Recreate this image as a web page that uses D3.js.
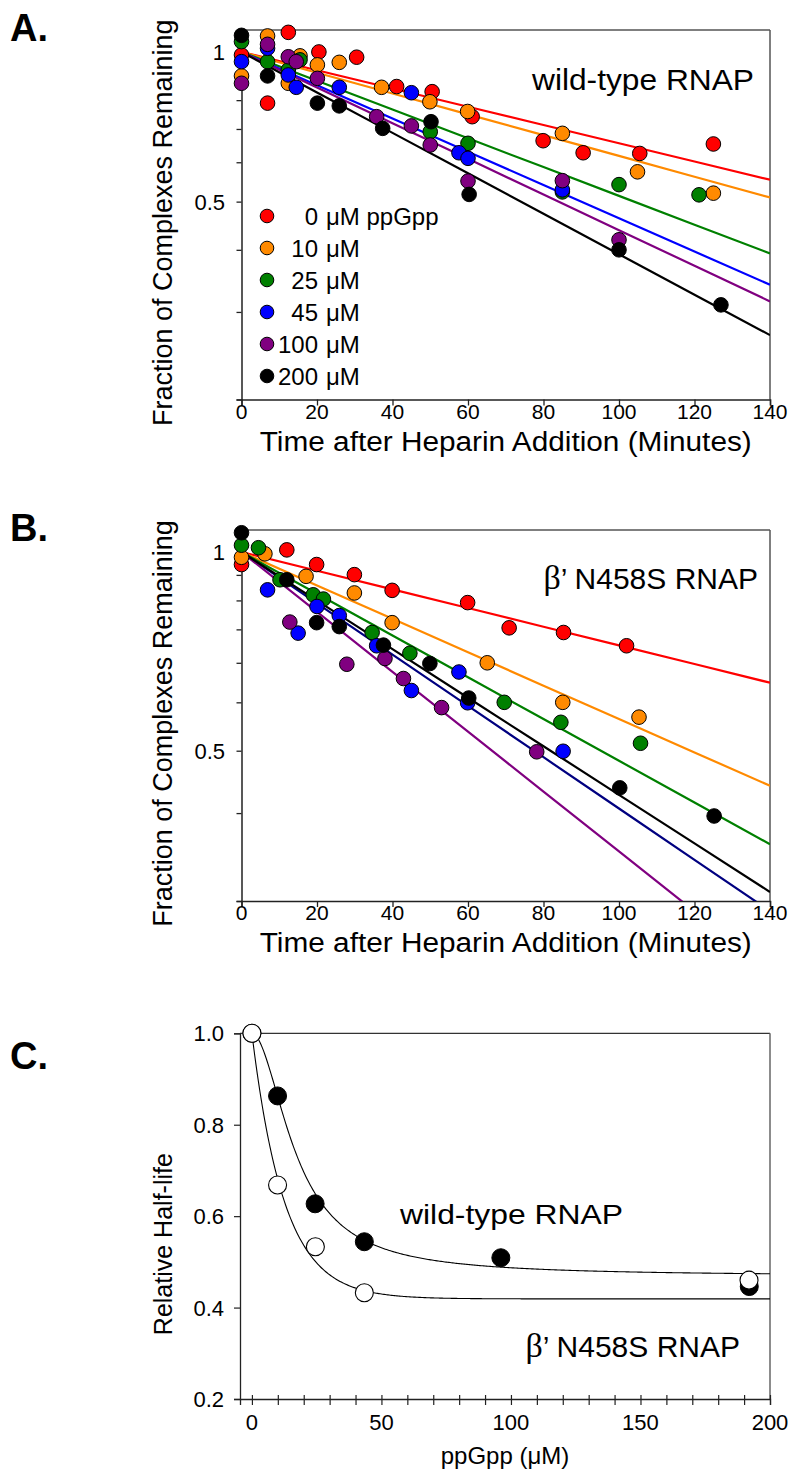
<!DOCTYPE html>
<html><head><meta charset="utf-8">
<script src="https://cdn.jsdelivr.net/npm/d3@7"></script>
<style>body{margin:0;background:#fff} svg{display:block} text{font-family:Arial,"Liberation Sans",sans-serif;fill:#000}</style>
</head><body>
<svg id="c" width="800" height="1483"></svg>
<script>
// ---------- data ----------
const timeTicks = [0,20,40,60,80,100,120,140];
const fracTicks = [0.2,0.3,0.4,0.5,0.6,0.7,0.8,0.9,1];
// tick labels as printed in each panel: [tick value, label text]
const fracLabelsA = [[1,"1"],[0.5,"0.5"]];
const fracLabelsB = [[1,"1"],[0.4,"0.5"]];
const seriesConc = ["0","10","25","45","100","200"];
const seriesColors = ["#ff0000","#ff8a00","#008000","#0000ff","#800080","#000000"];
const lineColorsA = ["#ff0000","#ff8a00","#008000","#0000ff","#800080","#000000"];
const lineColorsB = ["#ff0000","#ff8a00","#008000","#000080","#800080","#000000"];
// fitted half-lives (min) for single-exponential decay lines
const halfLifeA = [164,144,104,90,84,74];
const halfLifeB = [161,90,72,58.6,50.2,61.9];

// Panel A: wild-type RNAP  [time, fraction]
const a0   = [[0,0.986],[6.9,0.789],[12.4,1.095],[20.5,1.0],[30.5,0.976],[41.1,0.852],[50.5,0.832],[61.1,0.741],[79.9,0.663],[90.5,0.627],[105.5,0.625],[125,0.653]];
const a10  = [[0,0.895],[6.9,1.077],[12.4,0.865],[15.5,0.982],[20.1,0.942],[25.9,0.953],[37.1,0.849],[49.9,0.794],[59.9,0.759],[85,0.686],[104.9,0.574],[125,0.520]];
const a25  = [[0,1.049],[6.9,0.956],[12.4,0.92],[15.5,0.964],[50,0.691],[60,0.655],[85,0.523],[100,0.541],[121.2,0.516]];
const a45  = [[0,0.956],[6.9,1.017],[12.4,0.899],[14.5,0.849],[25.9,0.849],[45,0.828],[57.6,0.627],[60,0.611],[85,0.528]];
const a100 = [[0,0.865],[6.9,1.036],[12.4,0.978],[14.5,0.956],[20.1,0.885],[35.8,0.741],[45,0.71],[50,0.65],[60,0.55],[85,0.551],[100,0.419]];
const a200 = [[0,1.08],[6.9,0.895],[20.1,0.789],[25.9,0.779],[37.4,0.702],[50.2,0.724],[60.3,0.517],[100,0.400],[127,0.310]];

// Panel B: beta' N458S RNAP
const b0   = [[0,0.944],[12,1.01],[19.9,0.944],[29.9,0.901],[39.9,0.838],[59.9,0.792],[70.9,0.705],[85.3,0.690],[102,0.649]];
const b10  = [[0,0.976],[6.2,0.992],[17.1,0.894],[29.9,0.828],[39.9,0.722],[65.1,0.600],[85.1,0.5],[105.3,0.467]];
const b25  = [[0,1.032],[4.5,1.02],[10.2,0.88],[19,0.821],[21.7,0.805],[34.6,0.690],[44.6,0.627],[69.6,0.5],[84.6,0.456],[105.7,0.414]];
const b45  = [[6.9,0.840],[15,0.688],[20,0.778],[25.9,0.746],[35.8,0.649],[45,0.528],[57.6,0.575],[59.9,0.499],[85.2,0.399]];
const b100 = [[12.8,0.724],[27.9,0.596],[38,0.612],[42.9,0.558],[53,0.488],[78.2,0.398]];
const b200 = [[0,1.093],[12,0.88],[19.9,0.722],[25.9,0.709],[37.6,0.651],[49.9,0.598],[60.2,0.51],[100.2,0.337],[125.2,0.296]];

// Panel C
const ppGppTicks = [0,50,100,150,200];
const ppGppMinor = [10,20,30,40,60,70,80,90,110,120,130,140,160,170,180,190];
const relTicks = [0.2,0.4,0.6,0.8,1.0];
const concWT  = [0,9.9,24.4,43.4,96.1,192];
const relWT   = [1.0,0.863,0.627,0.544,0.509,0.446];
const concMut = [0,9.9,24.5,43.4,191.9];
const relMut  = [1.0,0.668,0.533,0.4325,0.460];
// fitted curves
const fitWT  = {plateau:0.469, K:17.2, n:1.9};   // Hill-type decay
const fitMut = {plateau:0.419, rate:0.08};       // exponential decay

// ---------- drawing ----------
const svg = d3.select("#c");
const L = 241.5, R = 770;

function txt(g, x, y, s, size, anchor, extra) {
  const t = g.append("text").attr("x", x).attr("y", y).attr("font-size", size)
    .attr("text-anchor", anchor || "start").text(s);
  if (extra) extra(t);
  return t;
}

function logPanel(top, bottom, sets, halfLives, lineColors, labels, letter, id) {
  const g = svg.append("g");
  const x = d3.scaleLinear().domain([0,140]).range([L,R]);
  const y = d3.scaleLog().domain([0.2,1.107]).range([bottom,top]);
  g.append("clipPath").attr("id", id).append("rect")
    .attr("x", L).attr("y", top).attr("width", R-L).attr("height", bottom-top);
  g.append("line").attr("x1",L).attr("x2",R).attr("y1",top).attr("y2",top).attr("stroke","#555").attr("stroke-width",1.5);
  g.append("line").attr("x1",R).attr("x2",R).attr("y1",top).attr("y2",bottom).attr("stroke","#555").attr("stroke-width",1.5);
  const xa = g.append("g").attr("transform",`translate(0,${bottom})`)
    .call(d3.axisBottom(x).tickValues(timeTicks).tickSize(6).tickFormat(""));
  const ya = g.append("g").attr("transform",`translate(${L},0)`)
    .call(d3.axisLeft(y).tickValues(fracTicks).tickSize(5).tickFormat(""));
  [xa,ya].forEach(a => { a.select(".domain").attr("stroke","#222").attr("stroke-width",1.5);
    a.selectAll(".tick line").attr("stroke","#222").attr("stroke-width",1.3); });
  timeTicks.forEach(v => txt(g, x(v), bottom+19, v, 21, "middle"));
  labels.forEach(d => txt(g, 225, y(d[0])+8, d[1], 22, "end"));
  const lg = g.append("g").attr("clip-path", `url(#${id})`);
  const line = d3.line().x(d => x(d[0])).y(d => y(d[1]));
  halfLives.forEach((h,i) => {
    const pts = timeTicks.map(t => [t, Math.pow(0.5, t/h)]);
    lg.append("path").attr("d", line(pts)).attr("fill","none")
      .attr("stroke", lineColors[i]).attr("stroke-width", 2.2);
  });
  sets.forEach((s,i) => {
    g.append("g").selectAll("circle").data(s).join("circle")
      .attr("cx", d => x(d[0])).attr("cy", d => y(d[1])).attr("r", 7.3)
      .attr("fill", seriesColors[i]).attr("stroke","#000").attr("stroke-width",1);
  });
  txt(g, 0, 0, "Fraction of Complexes Remaining", 27, "middle",
      t => t.attr("transform", `translate(172,${(top+bottom)/2+8}) rotate(-90)`));
  txt(g, (L+R)/2, bottom+51, "Time after Heparin Addition (Minutes)", 27, "middle",
      t => t.attr("textLength", 492).attr("lengthAdjust","spacingAndGlyphs"));
  txt(g, 10, top+11, letter, 38, "start", t => t.attr("font-weight","bold"));
  return {g, x, y};
}

const A = logPanel(30, 399.5, [a0,a10,a25,a45,a100,a200], halfLifeA, lineColorsA, fracLabelsA, "A.", "clipA");
txt(A.g, 754, 90, "wild-type RNAP", 30, "end", t => t.attr("textLength",222).attr("lengthAdjust","spacingAndGlyphs"));
const legY0 = 216, legStep = 32;
seriesConc.forEach((c,i) => {
  const yy = legY0 + i*legStep;
  A.g.append("circle").attr("cx", 267).attr("cy", yy).attr("r", 6.8)
    .attr("fill", seriesColors[i]).attr("stroke","#000").attr("stroke-width",1);
  txt(A.g, 318, yy+9, c, 24, "end");
  txt(A.g, 326, yy+9, i === 0 ? "\u03bcM ppGpp" : "\u03bcM", 24, "start");
});

const B = logPanel(530, 901, [b0,b10,b25,b45,b100,b200], halfLifeB, lineColorsB, fracLabelsB, "B.", "clipB");
{
  const t = B.g.append("text").attr("x", 758).attr("y", 589).attr("font-size", 30).attr("text-anchor","end");
  t.append("tspan").attr("font-family","'Liberation Serif',serif").attr("font-size",34).text("\u03b2");
  t.append("tspan").text("\u2019 N458S RNAP");
}

// Panel C
{
  const g = svg.append("g");
  const top = 1033.3, bottom = 1399, Lc = 240;
  const x = d3.scaleLinear().domain([-4.6,200]).range([Lc,R]);
  const y = d3.scaleLinear().domain([0.2,1.0]).range([bottom,top]);
  g.append("line").attr("x1",Lc).attr("x2",R).attr("y1",top).attr("y2",top).attr("stroke","#333").attr("stroke-width",1.3);
  g.append("line").attr("x1",R).attr("x2",R).attr("y1",top).attr("y2",bottom).attr("stroke","#666").attr("stroke-width",1.5);
  const xa = g.append("g").attr("transform",`translate(0,${bottom})`)
    .call(d3.axisBottom(x).tickValues(ppGppTicks.concat(ppGppMinor)).tickSize(6).tickFormat(""));
  xa.selectAll(".tick line").attr("y1",-4);
  const ya = g.append("g").attr("transform",`translate(${Lc},0)`)
    .call(d3.axisLeft(y).tickValues(relTicks).tickSize(6).tickFormat(""));
  [xa,ya].forEach(a => { a.select(".domain").attr("stroke","#222").attr("stroke-width",1.3);
    a.selectAll(".tick line").attr("stroke","#222").attr("stroke-width",1.2); });
  ppGppTicks.forEach(v => txt(g, x(v), bottom+31, v, 22, "middle"));
  relTicks.forEach(v => txt(g, 224, y(v)+8, v.toFixed(1), 22, "end"));
  g.append("clipPath").attr("id","clipC").append("rect")
    .attr("x",Lc).attr("y",top).attr("width",R-Lc).attr("height",bottom-top);
  const cg = g.append("g").attr("clip-path","url(#clipC)");
  const line = d3.line().x(d => x(d[0])).y(d => y(d[1]));
  const xs = d3.range(0, 200.5, 0.5);
  const wtCurve  = xs.map(c => [c, fitWT.plateau + (1-fitWT.plateau)/(1+Math.pow(c/fitWT.K, fitWT.n))]);
  const mutCurve = xs.map(c => [c, fitMut.plateau + (1-fitMut.plateau)*Math.exp(-fitMut.rate*c)]);
  [wtCurve, mutCurve].forEach(pts => cg.append("path").attr("d", line(pts)).attr("fill","none")
    .attr("stroke","#000").attr("stroke-width",1.1));
  g.append("g").selectAll("circle").data(d3.zip(concWT, relWT)).join("circle")
    .attr("cx", d => x(d[0])).attr("cy", d => y(d[1])).attr("r", 9)
    .attr("fill","#000").attr("stroke","#000");
  g.append("g").selectAll("circle").data(d3.zip(concMut, relMut)).join("circle")
    .attr("cx", d => x(d[0])).attr("cy", d => y(d[1])).attr("r", 9)
    .attr("fill","#fff").attr("stroke","#000").attr("stroke-width",1.1);
  txt(g, 0, 0, "Relative Half-life", 25, "middle",
      t => t.attr("transform", `translate(172,${(top+bottom)/2+28}) rotate(-90)`));
  txt(g, (Lc+R)/2, 1464, "ppGpp (\u03bcM)", 24, "middle");
  txt(g, 400, 1224, "wild-type RNAP", 28, "start", t => t.attr("textLength",223).attr("lengthAdjust","spacingAndGlyphs"));
  const t = g.append("text").attr("x", 740).attr("y", 1357).attr("font-size", 30).attr("text-anchor","end");
  t.append("tspan").attr("font-family","'Liberation Serif',serif").attr("font-size",34).text("\u03b2");
  t.append("tspan").text("\u2019 N458S RNAP");
  txt(g, 10, 1069, "C.", 38, "start", t => t.attr("font-weight","bold"));
}
</script>
</body></html>
